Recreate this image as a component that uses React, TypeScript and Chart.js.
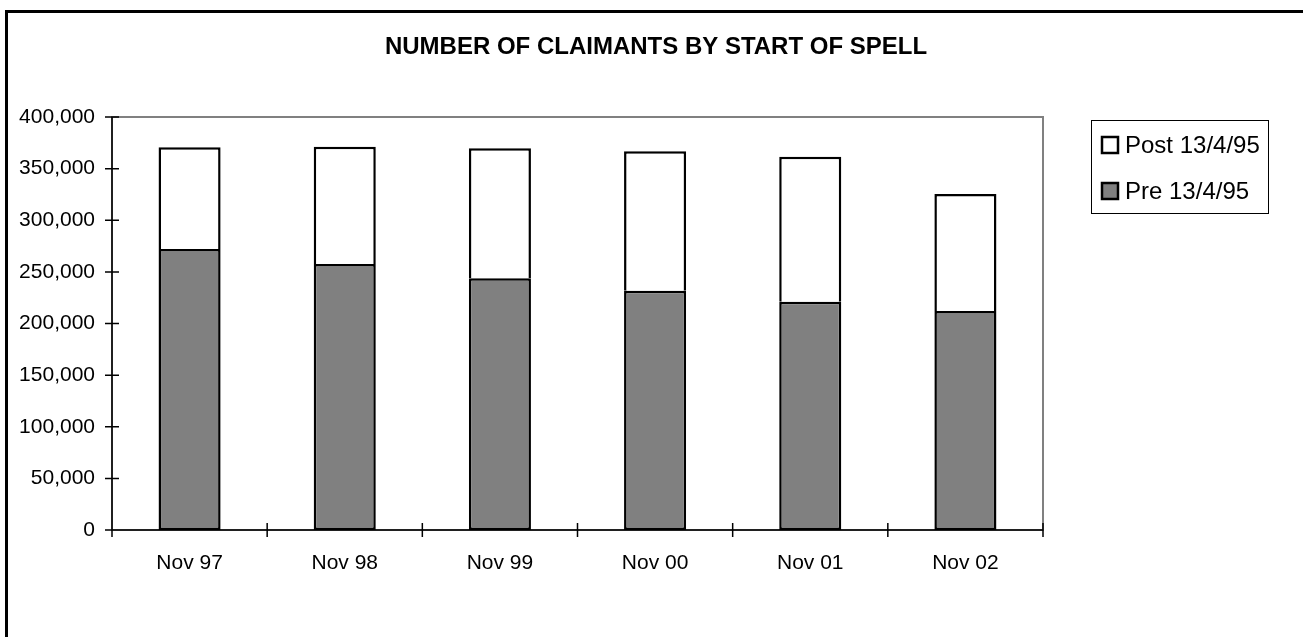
import React, { useEffect, useRef } from "react";
import { Chart, registerables } from "chart.js";

Chart.register(...registerables);

const TITLE = "NUMBER OF CLAIMANTS BY START OF SPELL";
const categories = ["Nov 97", "Nov 98", "Nov 99", "Nov 00", "Nov 01", "Nov 02"];
const preValues = [272100, 257600, 243800, 231800, 221100, 212100];
const postValues = [98500, 113600, 125900, 135000, 140500, 113300];
const preLabel = "Pre 13/4/95";
const postLabel = "Post 13/4/95";
const yMin = 0;
const yMax = 400000;
const yStep = 50000;

const FONT = "'Liberation Sans', Arial, Helvetica, sans-serif";
const PRE_COLOR = "#808080";
const POST_COLOR = "#ffffff";

const fmt = (v: number) => v.toLocaleString("en-US");

const decor = {
  id: "decor",
  beforeDatasetsDraw(chart: any) {
    const { ctx, chartArea: a } = chart;
    ctx.save();
    ctx.strokeStyle = "#808080";
    ctx.lineWidth = 2;
    ctx.strokeRect(a.left, a.top, a.right - a.left, a.bottom - a.top);
    ctx.restore();
  },
  afterDatasetsDraw(chart: any) {
    const { ctx, chartArea: a, scales } = chart;
    const xs = scales.x;
    const ys = scales.y;
    ctx.save();
    ctx.strokeStyle = "#000";
    ctx.lineWidth = 1.5;
    ctx.beginPath();
    ctx.moveTo(a.left, a.top);
    ctx.lineTo(a.left, a.bottom + 7);
    ctx.moveTo(a.left, a.bottom);
    ctx.lineTo(a.right, a.bottom);
    for (const t of ys.ticks) {
      const py = ys.getPixelForValue(t.value);
      ctx.moveTo(a.left - 7, py);
      ctx.lineTo(a.left + 7, py);
    }
    for (let i = 0; i <= categories.length; i++) {
      const px = xs.getPixelForValue(i - 0.5);
      ctx.moveTo(px, a.bottom - 7);
      ctx.lineTo(px, a.bottom + 7);
    }
    ctx.stroke();

    // title
    ctx.fillStyle = "#000";
    ctx.font = `bold 24px ${FONT}`;
    ctx.textAlign = "center";
    ctx.textBaseline = "middle";
    ctx.fillText(TITLE, 656, 47);

    // legend
    const lx = 1091;
    const ly = 120;
    const lw = 177;
    const lh = 93;
    ctx.lineWidth = 1;
    ctx.strokeStyle = "#000";
    ctx.strokeRect(lx + 0.5, ly + 0.5, lw, lh);
    const items = [
      { label: postLabel, color: POST_COLOR, cy: 145 },
      { label: preLabel, color: PRE_COLOR, cy: 191 },
    ];
    ctx.font = `24px ${FONT}`;
    ctx.textAlign = "left";
    for (const it of items) {
      ctx.fillStyle = it.color;
      ctx.fillRect(1102, it.cy - 8, 16, 16);
      ctx.lineWidth = 2.5;
      ctx.strokeRect(1102, it.cy - 8, 16, 16);
      ctx.fillStyle = "#000";
      ctx.fillText(it.label, 1125, it.cy + 1);
    }
    ctx.restore();
  },
};

export default function App() {
  const ref = useRef<HTMLCanvasElement | null>(null);
  useEffect(() => {
    if (!ref.current) return;
    const chart = new Chart(ref.current, {
      type: "bar",
      data: {
        labels: categories,
        datasets: [
          {
            label: preLabel,
            data: preValues,
            backgroundColor: PRE_COLOR,
            borderColor: "#000",
            borderWidth: 2.5,
            borderSkipped: false,
            barPercentage: 0.4,
            categoryPercentage: 1,
          },
          {
            label: postLabel,
            data: postValues,
            backgroundColor: POST_COLOR,
            borderColor: "#000",
            borderWidth: 2.5,
            borderSkipped: "bottom",
            barPercentage: 0.4,
            categoryPercentage: 1,
          },
        ],
      },
      options: {
        responsive: false,
        animation: false,
        layout: { padding: { left: 0, right: 260, top: 117, bottom: 0 } },
        plugins: {
          legend: { display: false },
          title: { display: false },
          tooltip: { enabled: false },
        },
        scales: {
          x: {
            stacked: true,
            offset: true,
            grid: { display: false, drawTicks: false },
            border: { display: false },
            ticks: {
              color: "#000",
              font: { family: FONT, size: 21 },
              padding: 21,
              maxRotation: 0,
            },
            afterFit: (s: any) => {
              s.height = 107;
            },
          },
          y: {
            stacked: true,
            min: yMin,
            max: yMax,
            grid: { display: false, drawTicks: false },
            border: { display: false },
            ticks: {
              stepSize: yStep,
              color: "#000",
              font: { family: FONT, size: 21 },
              padding: 17,
              callback: (v: any) => fmt(Number(v)),
            },
            afterFit: (s: any) => {
              s.width = 112;
            },
          },
        },
      },
      plugins: [decor],
    });
    return () => chart.destroy();
  }, []);

  return (
    <div
      style={{
        position: "fixed",
        left: 0,
        top: 0,
        width: 1303,
        height: 637,
        overflow: "hidden",
        background: "#fff",
      }}
    >
      <canvas
        ref={ref}
        width={1303}
        height={637}
        style={{ position: "absolute", left: 0, top: 0, width: 1303, height: 637 }}
      />
      <div
        style={{
          position: "absolute",
          left: 5,
          top: 10,
          width: 1400,
          height: 700,
          border: "3px solid #000",
          pointerEvents: "none",
        }}
      />
    </div>
  );
}
